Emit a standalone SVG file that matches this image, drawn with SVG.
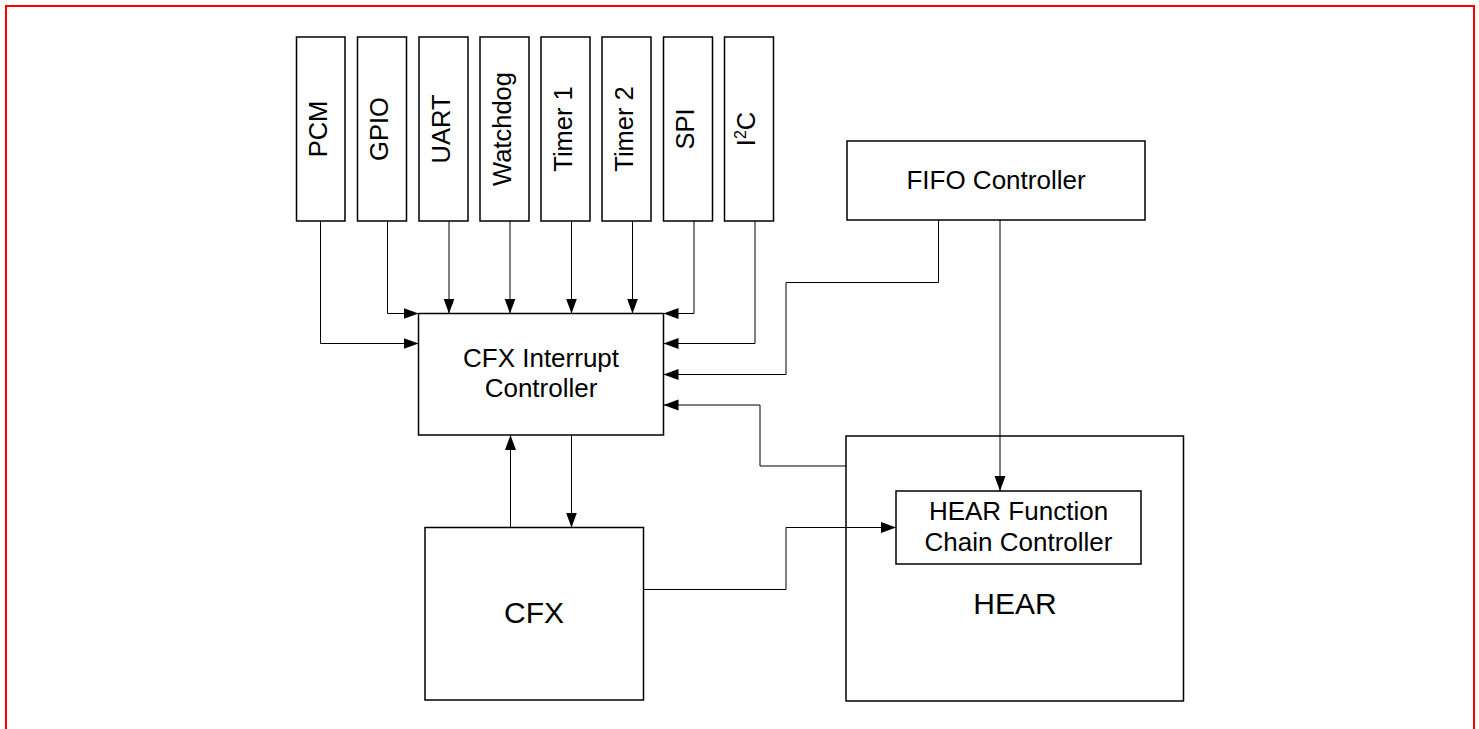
<svg xmlns="http://www.w3.org/2000/svg" width="1479" height="729" viewBox="0 0 1479 729">
<style>
.box{fill:#fff;stroke:#000;stroke-width:1.5}
.lbl{font-family:"Liberation Sans",Arial,sans-serif;font-size:26px;fill:#000;text-anchor:middle}
.rot{font-size:25.5px}
.big{font-size:30px}
.conn path{fill:none;stroke:#000;stroke-width:1;marker-end:url(#ah)}
</style>
<defs>
<marker id="ah" markerUnits="userSpaceOnUse" markerWidth="16" markerHeight="12" refX="15" refY="5.5" orient="auto">
<path d="M0,0 L15,5.5 L0,11 z" fill="#000"/>
</marker>
</defs>
<rect x="6" y="6" width="1468" height="740" fill="none" stroke="#f00" stroke-width="2"/>

<g id="pcm"><rect class="box" x="296.5" y="37" width="48.5" height="184"/><text class="lbl rot" transform="translate(326.5,129) rotate(-90)">PCM</text></g>
<g id="gpio"><rect class="box" x="357.5" y="37" width="49" height="184"/><text class="lbl rot" transform="translate(388,129) rotate(-90)">GPIO</text></g>
<g id="uart"><rect class="box" x="419" y="37" width="49" height="184"/><text class="lbl rot" transform="translate(449.5,129) rotate(-90)">UART</text></g>
<g id="watchdog"><rect class="box" x="480" y="37" width="49" height="184"/><text class="lbl rot" transform="translate(510.5,129) rotate(-90)">Watchdog</text></g>
<g id="timer1"><rect class="box" x="541" y="37" width="49" height="184"/><text class="lbl rot" transform="translate(571.5,129) rotate(-90)">Timer 1</text></g>
<g id="timer2"><rect class="box" x="602" y="37" width="49" height="184"/><text class="lbl rot" transform="translate(632.5,129) rotate(-90)">Timer 2</text></g>
<g id="spi"><rect class="box" x="663.5" y="37" width="49" height="184"/><text class="lbl rot" transform="translate(694,129) rotate(-90)">SPI</text></g>
<g id="i2c"><rect class="box" x="724.5" y="37" width="49" height="184"/><text class="lbl rot" transform="translate(755,129) rotate(-90)">I<tspan font-size="16" dy="-9">2</tspan><tspan dy="9">C</tspan></text></g>

<g id="fifo"><rect class="box" x="847" y="141" width="298" height="79"/><text class="lbl" x="996" y="189">FIFO Controller</text></g>

<g id="cfxic"><rect class="box" x="418.5" y="313.5" width="245" height="121.5"/><text class="lbl" x="541" y="366.5">CFX Interrupt</text><text class="lbl" x="541" y="396.5">Controller</text></g>

<g id="cfx"><rect class="box" x="425" y="527.5" width="218.5" height="172.5"/><text class="lbl big" x="534" y="623">CFX</text></g>

<g id="hear"><rect class="box" x="846" y="436" width="337.5" height="265"/><text class="lbl big" x="1015" y="614">HEAR</text></g>

<g id="hfcc"><rect class="box" x="896" y="491" width="245" height="73"/><text class="lbl" x="1018.5" y="520">HEAR Function</text><text class="lbl" x="1018.5" y="551">Chain Controller</text></g>

<g class="conn" id="connectors">
<path d="M320.5,221 V343.5 H418.5"/>
<path d="M387.5,221 V313.5 H418.5"/>
<path d="M449,221 V313.5"/>
<path d="M510,221 V313.5"/>
<path d="M571.5,221 V313.5"/>
<path d="M632.5,221 V313.5"/>
<path d="M694,221 V313.5 H663.5"/>
<path d="M755,221 V343.5 H663.5"/>
<path d="M938.5,220 V282.5 H786 V374.5 H663.5"/>
<path d="M846,466 H760 V405 H663.5"/>
<path d="M1000,220 V491"/>
<path d="M510.5,527.5 V435"/>
<path d="M571.5,435 V527.5"/>
<path d="M643.5,589.5 H786 V527.5 H896"/>
</g>
</svg>
